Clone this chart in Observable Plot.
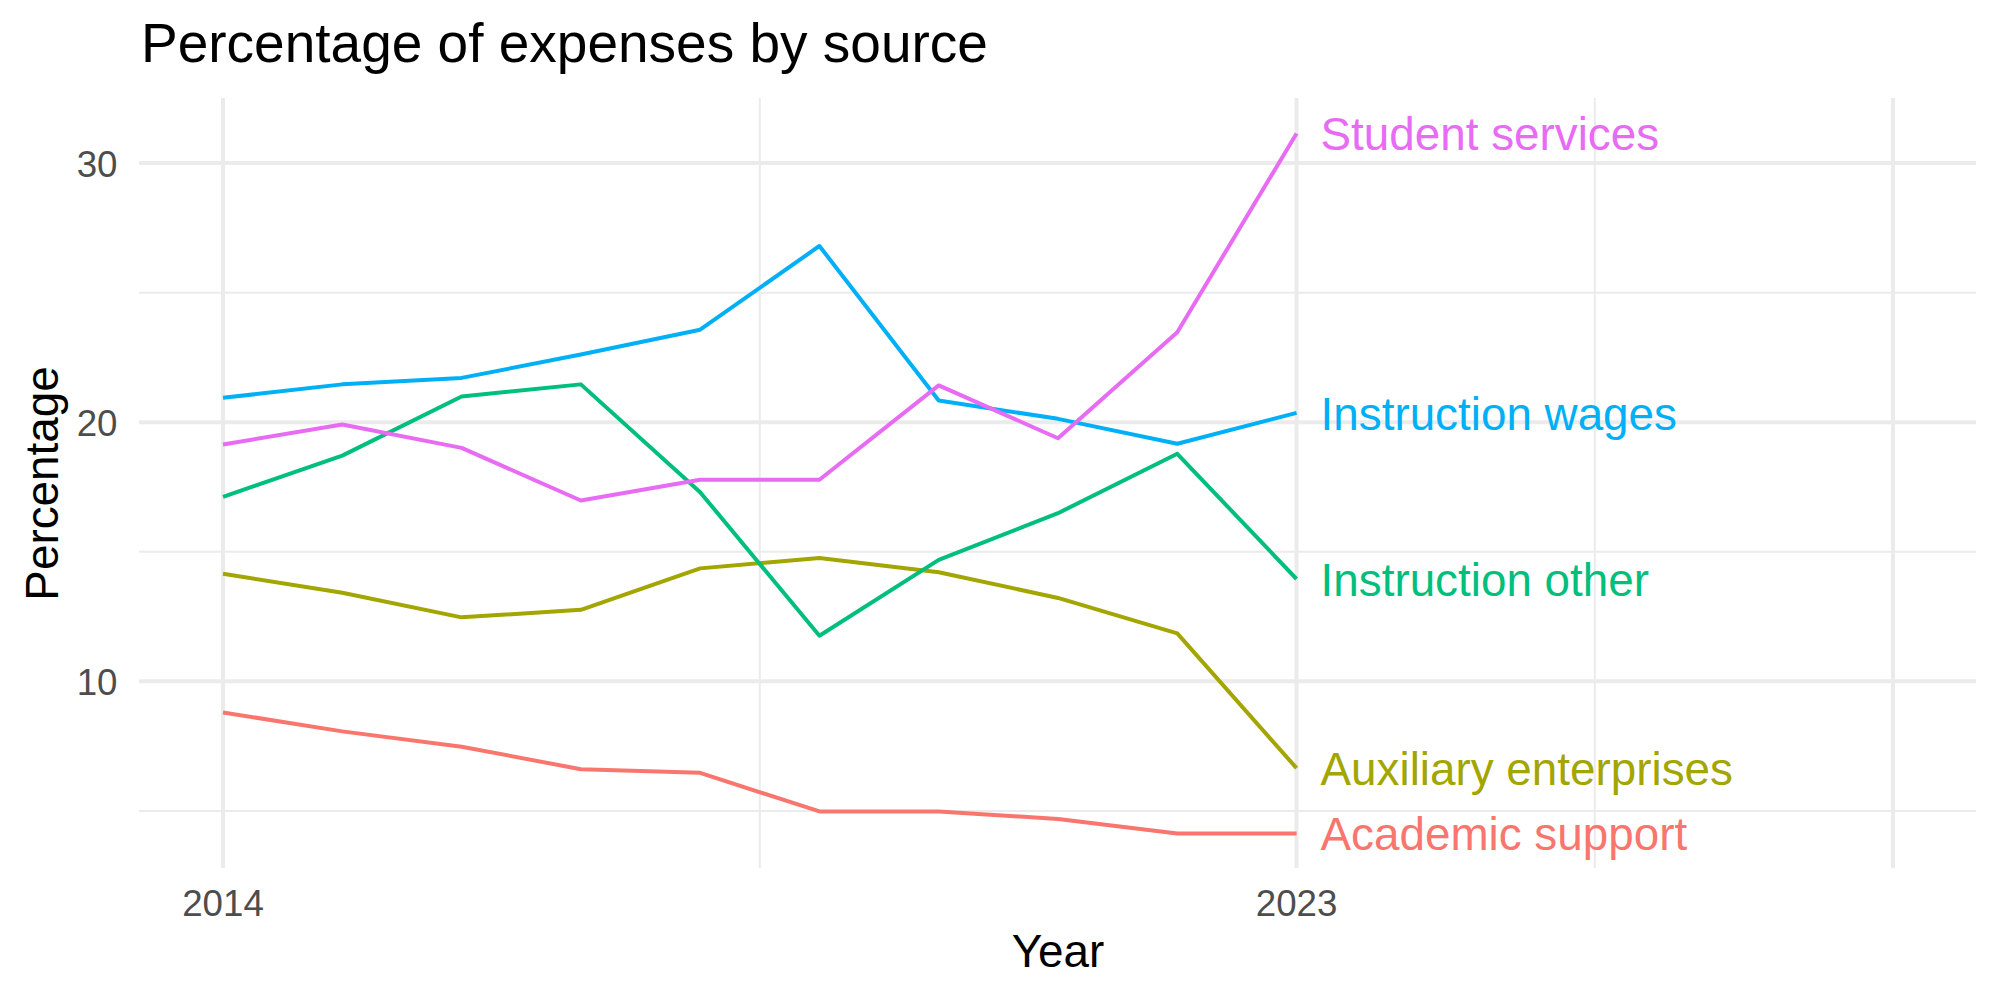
<!DOCTYPE html>
<html>
<head>
<meta charset="utf-8">
<script src="https://cdn.jsdelivr.net/npm/d3@7"></script>
<script src="https://cdn.jsdelivr.net/npm/@observablehq/plot@0.6"></script>
<style>
  body { margin: 0; background: #ffffff; font-family: "Liberation Sans", Arial, Helvetica, sans-serif; }
  #title { position: relative; height: 80px; width: 2000px; }
  #title span { position: absolute; left: 141px; top: 16px; font-size: 55px; line-height: 1; color: #000000; white-space: nowrap; }
</style>
</head>
<body>
<div id="title"><span>Percentage of expenses by source</span></div>
<div id="chart"></div>
<script>
// Share of expenses (%) by source, 2014–2023
const years = [2014, 2015, 2016, 2017, 2018, 2019, 2020, 2021, 2022, 2023];
const sources = ["Academic support", "Auxiliary enterprises", "Instruction other", "Instruction wages", "Student services"];
const academicSupport      = [8.80, 8.07, 7.48, 6.61, 6.47, 4.98, 4.98, 4.69, 4.13, 4.13];
const auxiliaryEnterprises = [14.15, 13.42, 12.47, 12.76, 14.36, 14.76, 14.21, 13.22, 11.85, 6.65];
const instructionOther     = [17.12, 18.71, 20.99, 21.46, 17.30, 11.76, 14.69, 16.49, 18.78, 13.95];
const instructionWages     = [20.94, 21.46, 21.71, 22.61, 23.57, 26.80, 20.84, 20.13, 19.17, 20.36];
const studentServices      = [19.14, 19.91, 19.01, 16.98, 17.78, 17.78, 21.42, 19.38, 23.47, 31.14];
const palette = ["#F8766D", "#A3A500", "#00BF7D", "#00B0F6", "#E76BF3"];

// Axis breaks
const xLimits = [2014, 2028];
const xMajor = [2014, 2023, 2028];
const xTickLabels = [2014, 2023];
const yMajor = [10, 20, 30];

const seriesValues = [academicSupport, auxiliaryEnterprises, instructionOther, instructionWages, studentServices];
const rows = sources.flatMap((source, s) =>
  years.map((year, i) => ({source, year, value: seriesValues[s][i]}))
);

// ggplot-style 5% expansion of the scale limits
const expand = ([a, b]) => [a - (b - a) * 0.05, b + (b - a) * 0.05];
const xDomain = expand(xLimits);
const yDomain = expand(d3.extent(rows, d => d.value));

const midpoints = arr => d3.pairs(arr).map(([a, b]) => (a + b) / 2);
const xMinor = midpoints(xMajor);
const yMinor = midpoints([0, ...yMajor]).filter(v => v > yDomain[0] && v < yDomain[1]);

const grid = "#EBEBEB";

const chart = Plot.plot({
  width: 2000,
  height: 920,
  marginLeft: 139,
  marginRight: 24,
  marginTop: 18,
  marginBottom: 132,
  style: {fontFamily: "'Liberation Sans', Arial, Helvetica, sans-serif", fontSize: "36.7px", color: "#4D4D4D", background: "#ffffff"},
  x: {type: "linear", domain: xDomain},
  y: {domain: yDomain},
  color: {domain: sources, range: palette},
  marks: [
    Plot.ruleY(yMinor, {stroke: grid, strokeWidth: 2}),
    Plot.ruleX(xMinor, {stroke: grid, strokeWidth: 2}),
    Plot.ruleY(yMajor, {stroke: grid, strokeWidth: 4}),
    Plot.ruleX(xMajor, {stroke: grid, strokeWidth: 4}),
    Plot.axisX(xTickLabels, {tickSize: 0, tickPadding: 21, tickFormat: "d", fontSize: 36.7, label: null}),
    Plot.axisY(yMajor, {tickSize: 0, tickPadding: 22, dy: 2, fontSize: 36.7, label: null}),
    Plot.text(["Year"], {frameAnchor: "bottom", dy: 84, lineAnchor: "middle", textAnchor: "middle", fontSize: 45.8, fill: "#000000"}),
    Plot.text(["Percentage"], {frameAnchor: "left", dx: -95.7, rotate: -90, lineAnchor: "middle", textAnchor: "middle", fontSize: 45.8, fill: "#000000"}),
    Plot.line(rows, {x: "year", y: "value", z: "source", stroke: "source", strokeWidth: 4, strokeLinejoin: "round", strokeLinecap: "butt"}),
    Plot.text(rows, Plot.selectLast({
      x: "year", y: "value", z: "source", text: "source", fill: "source",
      textAnchor: "start", lineAnchor: "middle", dx: 24, dy: 2, fontSize: 45.8
    }))
  ]
});

document.getElementById("chart").appendChild(chart);
</script>
</body>
</html>
